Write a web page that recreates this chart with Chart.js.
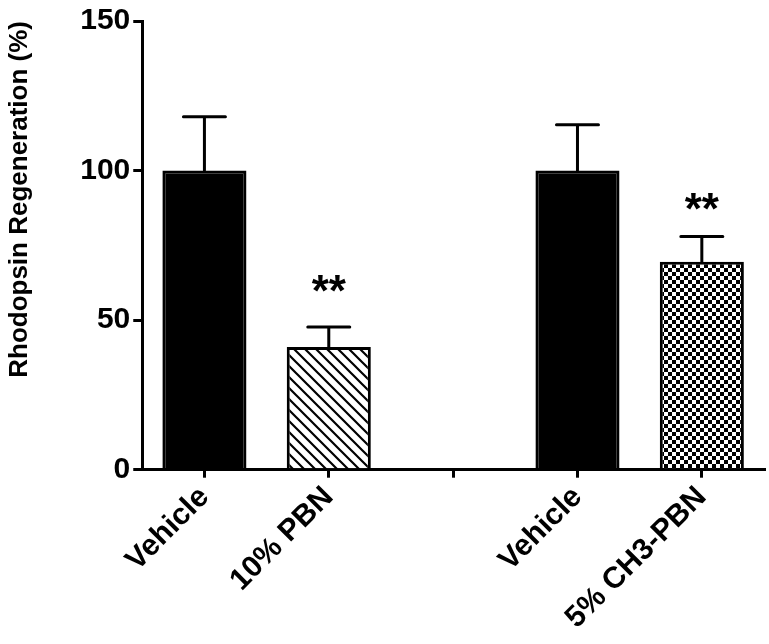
<!DOCTYPE html>
<html>
<head>
<meta charset="utf-8">
<script src="https://cdn.jsdelivr.net/npm/chart.js@4.4.0/dist/chart.umd.min.js"></script>
<style>
  html, body { margin: 0; padding: 0; background: #fff; }
  #wrap { width: 769px; height: 644px; position: relative; }
</style>
</head>
<body>
<div id="wrap"><canvas id="chart"></canvas></div>
<script>
const categorias = ["Vehicle", "10% PBN", "", "Vehicle", "5% CH3-PBN"];
const valores = [100, 41, null, 100, 69.5];
const erros = [18, 6.7, null, 15.3, 8.5];
const estrelas = ["", "**", "", "", "**"];
const estrelasY = [null, 63, null, null, 90.5];
const padroes = ["solid", "hatch", "none", "solid", "checker"];
const yTicks = [0, 50, 100, 150];

const fonte = "'Liberation Sans', Arial, sans-serif";

function criarHachura() {
  const c = document.createElement("canvas");
  c.width = 11;
  c.height = 11;
  const ctx = c.getContext("2d");
  ctx.fillStyle = "#fff";
  ctx.fillRect(0, 0, 11, 11);
  ctx.strokeStyle = "#000";
  ctx.lineWidth = 2.2;
  ctx.beginPath();
  ctx.moveTo(-2, -2);
  ctx.lineTo(13, 13);
  ctx.moveTo(-13, -2);
  ctx.lineTo(2, 13);
  ctx.moveTo(9, -2);
  ctx.lineTo(24, 13);
  ctx.stroke();
  return ctx.createPattern(c, "repeat");
}

function criarXadrez() {
  const c = document.createElement("canvas");
  c.width = 8;
  c.height = 8;
  const ctx = c.getContext("2d");
  ctx.fillStyle = "#fff";
  ctx.fillRect(0, 0, 8, 8);
  ctx.fillStyle = "#000";
  ctx.fillRect(0, 0, 4, 4);
  ctx.fillRect(4, 4, 4, 4);
  return ctx.createPattern(c, "repeat");
}

const hachura = criarHachura();
const xadrez = criarXadrez();

const cores = padroes.map((p) => {
  if (p === "hatch") return hachura;
  if (p === "checker") return xadrez;
  return "#000";
});

// barras de erro (só para cima) e asteriscos
const errosPlugin = {
  id: "errosPlugin",
  afterDatasetsDraw(chart) {
    const ctx = chart.ctx;
    const meta = chart.getDatasetMeta(0);
    const y = chart.scales.y;
    ctx.save();
    ctx.strokeStyle = "#000";
    ctx.lineWidth = 3;
    ctx.lineCap = "round";
    meta.data.forEach((bar, i) => {
      if (valores[i] == null) return;
      const x = bar.x;
      const yTop = y.getPixelForValue(valores[i]);
      const yErr = y.getPixelForValue(valores[i] + erros[i]);
      ctx.beginPath();
      ctx.moveTo(x, yTop);
      ctx.lineTo(x, yErr);
      ctx.moveTo(x - 21, yErr);
      ctx.lineTo(x + 21, yErr);
      ctx.stroke();
      if (estrelas[i]) {
        ctx.fillStyle = "#000";
        ctx.font = "bold 44px " + fonte;
        ctx.textAlign = "center";
        ctx.textBaseline = "alphabetic";
        // centro visual do asterisco fica ~0.58em acima da linha de base
        ctx.fillText(estrelas[i], x, y.getPixelForValue(estrelasY[i]) + 25);
      }
    });
    ctx.restore();
  },
};

new Chart(document.getElementById("chart"), {
  type: "bar",
  data: {
    labels: categorias,
    datasets: [
      {
        data: valores,
        backgroundColor: cores,
        borderColor: "#000",
        borderWidth: 3,
        barPercentage: 0.69,
        categoryPercentage: 0.98,
      },
    ],
  },
  options: {
    responsive: true,
    maintainAspectRatio: false,
    animation: false,
    layout: {
      padding: { top: 0, right: 5, left: 0, bottom: 6 },
    },
    plugins: {
      legend: { display: false },
      tooltip: { enabled: false },
    },
    scales: {
      x: {
        offset: true,
        grid: {
          offset: false,
          drawOnChartArea: false,
          drawTicks: true,
          tickLength: 8,
          color: "#000",
          lineWidth: 3,
        },
        border: { color: "#000", width: 3 },
        ticks: {
          color: "#000",
          maxRotation: 45,
          minRotation: 45,
          autoSkip: false,
          padding: 2,
          font: { family: fonte, size: 30, weight: "bold" },
        },
      },
      y: {
        min: 0,
        max: 150,
        afterBuildTicks: (axis) => {
          axis.ticks = yTicks.map((v) => ({ value: v }));
        },
        grid: {
          drawOnChartArea: false,
          drawTicks: true,
          tickLength: 9,
          color: "#000",
          lineWidth: 3,
        },
        border: { color: "#000", width: 3 },
        ticks: {
          color: "#000",
          padding: 3,
          font: { family: fonte, size: 30, weight: "bold" },
        },
        title: {
          display: true,
          text: "Rhodopsin Regeneration (%)",
          align: "end",
          color: "#000",
          padding: { top: 4, bottom: 42 },
          font: { family: fonte, size: 26, weight: "bold" },
        },
      },
    },
  },
  plugins: [errosPlugin],
});
</script>
</body>
</html>
